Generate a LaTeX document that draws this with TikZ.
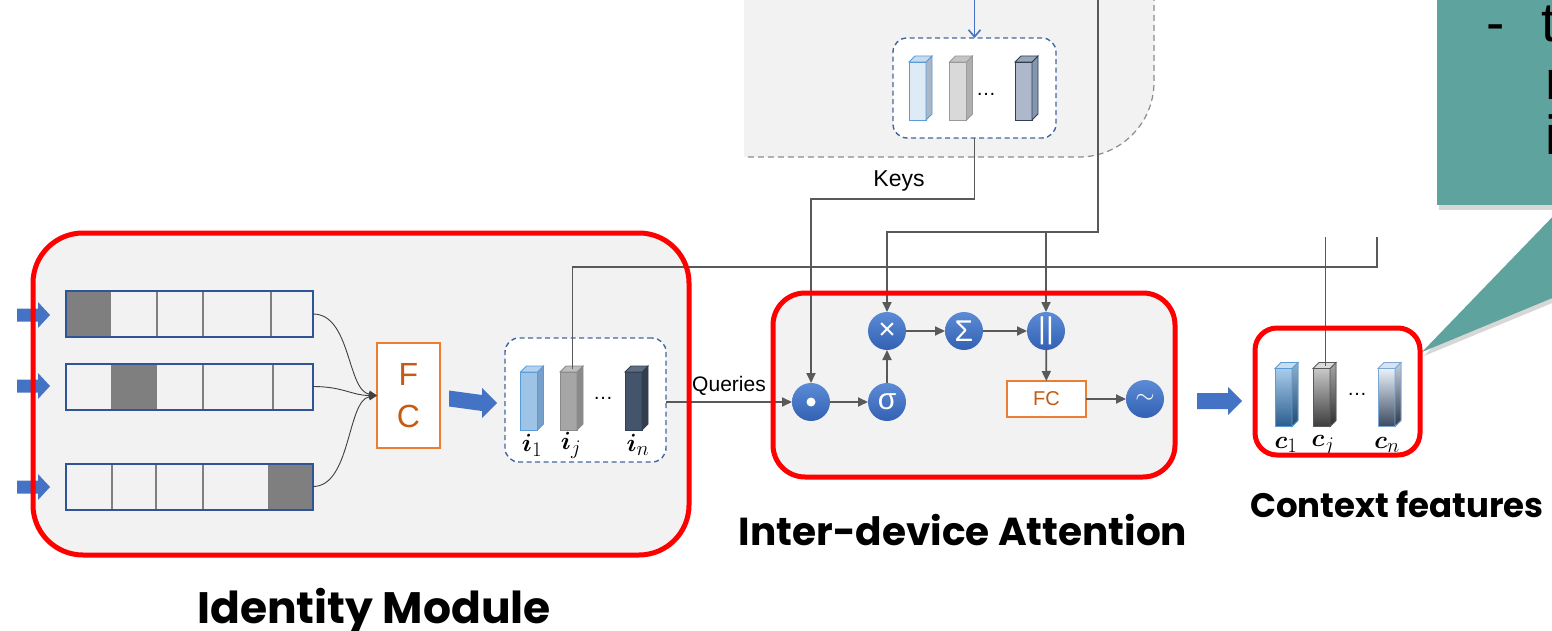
\documentclass[tikz,border=0pt]{standalone}
\usepackage{amsmath}
\usepackage[no-math]{fontspec}
\setmainfont{Liberation Sans}
\newfontfamily\titlefont{Poppins}
\usetikzlibrary{arrows.meta,calc}

\definecolor{panel}{HTML}{F2F2F2}
\definecolor{hlred}{HTML}{FF0000}
\definecolor{flow}{HTML}{4472C4}
\definecolor{wiregray}{HTML}{595959}
\definecolor{fcorange}{HTML}{ED7D31}
\definecolor{fctext}{HTML}{C55A11}
\definecolor{rowblue}{HTML}{2F5597}
\definecolor{groupblue}{HTML}{41679F}
\definecolor{opTop}{HTML}{5B8BD6}
\definecolor{opBot}{HTML}{3461B3}
\definecolor{cellgray}{HTML}{7F7F7F}
\definecolor{calloutteal}{HTML}{5FA39E}
% bar colours: front, side, lid, edge
\definecolor{kaF}{HTML}{DEEBF7}\definecolor{kaS}{HTML}{A9B8C6}\definecolor{kaL}{HTML}{C5DBF0}\definecolor{kaE}{HTML}{5B9BD5}
\definecolor{kbF}{HTML}{D9D9D9}\definecolor{kbS}{HTML}{AFAFAF}\definecolor{kbL}{HTML}{C4C4C4}\definecolor{kbE}{HTML}{9A9A9A}
\definecolor{kcF}{HTML}{ADB9CA}\definecolor{kcS}{HTML}{8497B0}\definecolor{kcL}{HTML}{98A6BA}\definecolor{kcE}{HTML}{333F50}
\definecolor{iaF}{HTML}{9DC3E6}\definecolor{iaS}{HTML}{76A0C9}\definecolor{iaL}{HTML}{B3D1EE}\definecolor{iaE}{HTML}{5B9BD5}
\definecolor{ibF}{HTML}{A6A6A6}\definecolor{ibS}{HTML}{8A8A8A}\definecolor{ibL}{HTML}{BDBDBD}\definecolor{ibE}{HTML}{8A8A8A}
\definecolor{icF}{HTML}{44546A}\definecolor{icS}{HTML}{323E4F}\definecolor{icL}{HTML}{5F6E84}\definecolor{icE}{HTML}{333F50}
\definecolor{caT}{HTML}{A9CCEB}\definecolor{caB}{HTML}{2A5D8F}\definecolor{caST}{HTML}{8EAFCE}\definecolor{caSB}{HTML}{1F4A73}\definecolor{caL}{HTML}{C9DDF0}\definecolor{caE}{HTML}{5B9BD5}
\definecolor{cbT}{HTML}{C8C8C8}\definecolor{cbB}{HTML}{3C3C3C}\definecolor{cbST}{HTML}{A6A6A6}\definecolor{cbSB}{HTML}{2E2E2E}\definecolor{cbL}{HTML}{DADADA}\definecolor{cbE}{HTML}{595959}
\definecolor{ccT}{HTML}{EAF1FA}\definecolor{ccB}{HTML}{3A4A60}\definecolor{ccST}{HTML}{C4CFDD}\definecolor{ccSB}{HTML}{2C3848}\definecolor{ccL}{HTML}{D6E3F3}\definecolor{ccE}{HTML}{7FA6D3}

% a little 3-D bar: front face node plus side and lid
\newcommand\prism[6]{%
  \node[face, #3, draw=#6] (#1) at #2 {};
  \filldraw[#4, draw=#6, line width=0.8pt] (#1.north east) -- ++(6,-6)
    -- ([shift={(6,-6)}]#1.south east) -- (#1.south east) -- cycle;
  \filldraw[#5, draw=#6, line width=0.8pt] (#1.north west) -- ++(6,-6)
    -- ([shift={(6,-6)}]#1.north east) -- (#1.north east) -- cycle;
}

% thick block arrow: start, tip, half shaft, half head, head length
\newcommand\blockarrow[5]{%
  \fill[flow] ($(#1)+(0,-#3)$) -- ($(#2)+(-#5,-#3)$) -- ($(#2)+(-#5,-#4)$) -- (#2)
    -- ($(#2)+(-#5,#4)$) -- ($(#2)+(-#5,#3)$) -- ($(#1)+(0,#3)$) -- cycle;
}

\begin{document}
\begin{tikzpicture}[x=1pt,y=-1pt,
  panelbox/.style={fill=panel, draw=none, outer sep=0pt, inner sep=0pt},
  redframe/.style={draw=hlred, line width=5pt},
  wire/.style={draw=wiregray, line width=1.8pt},
  wirearrow/.style={wire, -{Triangle[length=10pt,width=9pt]}},
  thinwire/.style={draw=black!75, line width=0.9pt, -{Triangle[length=8pt,width=7pt]}},
  op/.style={circle, minimum size=38pt, inner sep=0pt, outer sep=0pt, top color=opTop, bottom color=opBot, draw=none, text=white, font=\fontsize{30}{30}\selectfont},
  fcbox/.style={draw=fcorange, line width=2pt, fill=white, text=fctext, inner sep=0pt, outer sep=0pt},
  groupbox/.style={draw=groupblue, dash pattern=on 5pt off 3.5pt, line width=1.4pt, rounded corners=14pt, fill=white, outer sep=0pt},
  rowbox/.style={draw=rowblue, line width=2pt, minimum width=247pt, minimum height=46pt, inner sep=0pt, outer sep=0pt},
  divider/.style={draw=cellgray, line width=1.4pt},
  face/.style={minimum width=17pt, minimum height=58pt, inner sep=0pt, outer sep=0pt, line width=0.8pt},
  lbl/.style={font=\fontsize{28}{28}\selectfont},
  dotsl/.style={font=\fontsize{20}{20}\selectfont},
  title/.style={font=\titlefont\bfseries, anchor=base}
]
\useasboundingbox (0,0) rectangle (1552,631);
\clip (0,0) rectangle (1552,631);

% ---------- upper panel with the key vectors ----------
\fill[panel] (744,-5) -- (1154,-5) -- (1154,82) .. controls (1154,123.4) and (1120.4,157) .. (1079,157) -- (744,157) -- cycle;
\draw[black!45, line width=1.2pt, dash pattern=on 6pt off 4pt] (1154,-5) -- (1154,82) .. controls (1154,123.4) and (1120.4,157) .. (1079,157) -- (744,157);

\node[groupbox, minimum width=163pt, minimum height=100pt] (keysbox) at (974.5,88) {};
\prism{k1}{(917.5,91)}{fill=kaF}{fill=kaS}{fill=kaL}{kaE}
\prism{k2}{(958,91)}{fill=kbF}{fill=kbS}{fill=kbL}{kbE}
\prism{k3}{(1023.5,91)}{fill=kcF}{fill=kcS}{fill=kcL}{kcE}
\node[dotsl] (kdots) at (986,94) {…};

\coordinate (ktop) at (974.5,-2);
\draw[flow, line width=1.6pt, -{Straight Barb[length=7pt,width=12pt]}] (ktop) -- (keysbox.north);

% ---------- callout ----------
\fill[black!35, opacity=0.45] (1439,-10) rectangle (1562,210);
\fill[calloutteal] (1437,-10) rectangle (1562,205);
\fill[black!35, opacity=0.45] (1424,356) -- (1562,211) -- (1562,299) -- cycle;
\fill[calloutteal] (1422,352) -- (1562,207) -- (1562,294) -- cycle;
\begin{scope}[font=\fontsize{55}{55}\selectfont]
  \node[anchor=base west, inner sep=0pt] (cdash) at (1486,42) {-};
  \node[anchor=base west, inner sep=0pt] (ct) at (1541,42) {t};
  \node[anchor=base west, inner sep=0pt] (cn) at (1545,100) {n};
  \node[anchor=base west, inner sep=0pt] (ci) at (1545,155) {i};
\end{scope}

% ---------- panel fills ----------
\node[panelbox, rounded corners=50pt, minimum width=656pt, minimum height=322pt] (idbox) at (361,394) {};
\node[panelbox, rounded corners=32pt, minimum width=402pt, minimum height=184pt] (attbox) at (974,385) {};
\node[panelbox, fill=white, rounded corners=22pt, minimum width=165pt, minimum height=127pt] (ctxbox) at (1337.5,391.5) {};

% ---------- identity module ----------
\node[rowbox] (row1) at (189.5,314) {};
\node[rowbox] (row2) at (189.5,386.5) {};
\node[rowbox] (row3) at (189.5,486.5) {};
\fill[cellgray] (67,292) rectangle (110,336);
\fill[cellgray] (112,364.5) rectangle (156,408.5);
\fill[cellgray] (269,464.5) rectangle (312,508.5);
\foreach \x in {110,157,203,271} \draw[divider] (\x,292) -- (\x,336);
\foreach \x in {112,156,203,273} \draw[divider] (\x,364.5) -- (\x,408.5);
\foreach \x in {112,156,203,269} \draw[divider] (\x,464.5) -- (\x,511);
\draw[rowblue, line width=2pt] (row1.north west) rectangle (row1.south east);
\draw[rowblue, line width=2pt] (row2.north west) rectangle (row2.south east);
\draw[rowblue, line width=2pt] (row3.north west) rectangle (row3.south east);

\coordinate (in1) at (17,315);
\coordinate (in2) at (17,386);
\coordinate (in3) at (17,487);
\blockarrow{in1}{$(row1.west)+(-16,1)$}{6.5}{13}{12}
\blockarrow{in2}{$(row2.west)+(-16,-0.5)$}{6.5}{13}{12}
\blockarrow{in3}{$(row3.west)+(-16,0.5)$}{6.5}{13}{12}

\node[fcbox, minimum width=63pt, minimum height=105pt, align=center,
      font=\fontsize{32}{42}\selectfont] (fc1) at (408.5,395.5) {F\\C};

\draw[thinwire] (row1.east) .. controls +(38,0) and +(-30,-5) .. (fc1.west);
\draw[thinwire] (row2.east) .. controls +(30,0) and +(-25,0) .. (fc1.west);
\draw[thinwire] (row3.east) .. controls +(38,0) and +(-30,5) .. (fc1.west);

\node[groupbox, minimum width=161pt, minimum height=124pt] (querbox) at (585.5,400) {};
\prism{i1}{(529,401)}{fill=iaF}{fill=iaS}{fill=iaL}{iaE}
\prism{ij}{(568.5,401)}{fill=ibF}{fill=ibS}{fill=ibL}{ibE}
\prism{in}{(633.5,401)}{fill=icF}{fill=icS}{fill=icL}{icE}
\node[dotsl] (idots) at (603,398) {…};
\node[lbl] (li1) at (532,445) {$\boldsymbol{i}_1$};
\node[lbl] (lij) at (571,445) {$\boldsymbol{i}_j$};
\node[lbl] (lin) at (638,445) {$\boldsymbol{i}_n$};

\coordinate (fcA) at ($(fc1.east)+(9,3)$);
\blockarrow{fcA}{$(querbox.west)+(-8,3)$}{8}{15}{15}

% ---------- inter-device attention ----------
\node[op] (dot) at (811,402) {};
\fill[white] (dot) circle (4.5pt);
\node[op] (sig) at (887,402) {σ};
\node[op] (mul) at (887,331) {×};
\node[op] (sum) at (964,331) {Σ};
\node[op] (cat) at (1046,331) {||};
\node[fcbox, minimum width=79pt, minimum height=36pt, font=\fontsize{20}{20}\selectfont] (fc2) at (1046.5,399) {FC};
\node[op, font=\fontsize{34}{34}\selectfont] (tld) at (1145,399) {$\sim$};

\draw[wirearrow] (dot) -- (sig);
\draw[wirearrow] (sig) -- (mul);
\draw[wirearrow] (mul) -- (sum);
\draw[wirearrow] (sum) -- (cat);
\draw[wirearrow] (cat) -- (fc2);
\draw[wirearrow] (fc2) -- (tld);

\draw[wirearrow] (querbox.east |- dot) -- (dot);
\node[font=\fontsize{21}{21}\selectfont] (qlbl) at (729,386) {Queries};

\draw[wirearrow] (keysbox.south) -- (keysbox.south |- 0,199) -| (dot.north);
\node[font=\fontsize{23}{23}\selectfont] (klbl) at (899,181) {Keys};

\coordinate (vtop) at (1098,-2);
\coordinate (vbend) at (1098,232);
\draw[wirearrow] (vtop) -- (vbend) -| (mul.north);
\draw[wirearrow] (cat.north |- vbend) -- (cat.north);

% ---------- context features ----------
\prism{c1}{(1283.5,397.5)}{top color=caT, bottom color=caB}{top color=caST, bottom color=caSB}{fill=caL}{caE}
\prism{cj}{(1321.5,397.5)}{top color=cbT, bottom color=cbB}{top color=cbST, bottom color=cbSB}{fill=cbL}{cbE}
\prism{cn}{(1386.5,397.5)}{top color=ccT, bottom color=ccB}{top color=ccST, bottom color=ccSB}{fill=ccL}{ccE}
\node[dotsl] (cdots) at (1357,394) {…};
\node[lbl] (lc1) at (1286,445) {$\boldsymbol{c}_1$};
\node[lbl] (lcj) at (1323,445) {$\boldsymbol{c}_j$};
\node[lbl] (lcn) at (1387,445) {$\boldsymbol{c}_n$};

\coordinate (attA) at ($(attbox.east)+(22,16)$);
\blockarrow{attA}{$(ctxbox.west)+(-13,9.5)$}{8}{14}{14}

% identity vector fed forward to the output
\coordinate (ijout) at ([shift={(4,-3)}]ij.north);
\coordinate (rtop) at (1377,237);
\draw[wire] (ijout) |- (rtop |- 0,267) -- (rtop);
\coordinate (cjin) at ([shift={(4,-3)}]cj.north);
\coordinate (ctop) at (cjin |- 0,237);
\draw[wire] (ctop) -- (cjin);

% ---------- red frames ----------
\draw[redframe, rounded corners=50pt] (idbox.north west) rectangle (idbox.south east);
\draw[redframe, rounded corners=32pt] (attbox.north west) rectangle (attbox.south east);
\draw[redframe, rounded corners=22pt] (ctxbox.north west) rectangle (ctxbox.south east);

% ---------- titles ----------
\node[title, font=\titlefont\bfseries\fontsize{44}{44}\selectfont] (idtitle) at (374,623) {Identity Module};
\node[title, font=\titlefont\bfseries\fontsize{39}{39}\selectfont] (attitle) at (963,545) {Inter-device Attention};
\node[title, font=\titlefont\bfseries\fontsize{34}{34}\selectfont] (cftitle) at (1397,517) {Context features};
\end{tikzpicture}
\end{document}
